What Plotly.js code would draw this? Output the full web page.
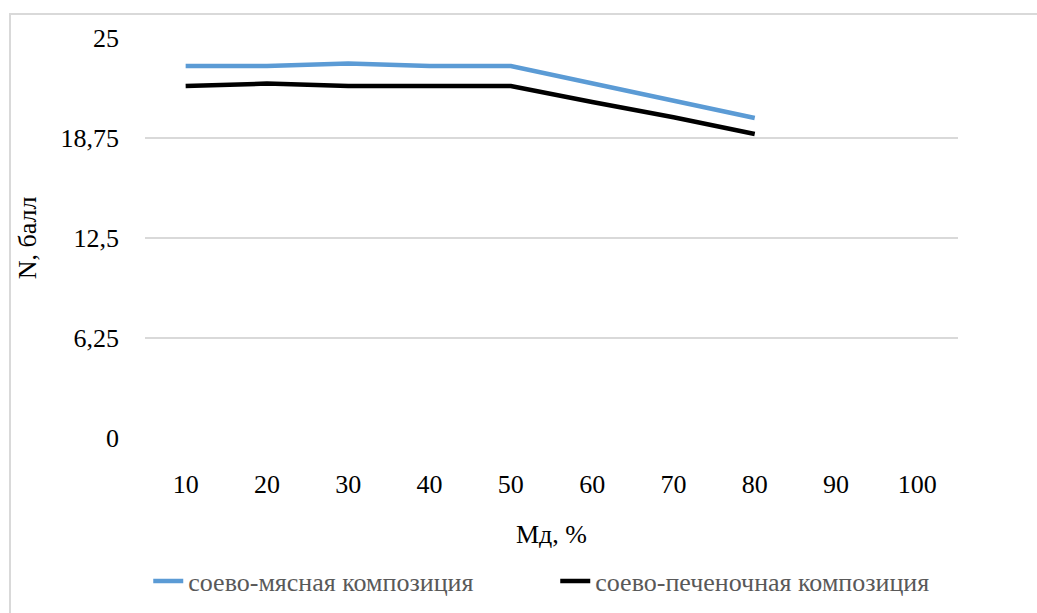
<!DOCTYPE html>
<html>
<head>
<meta charset="utf-8">
<script src="https://cdn.plot.ly/plotly-3.0.1.min.js"></script>
<style>
html,body{margin:0;padding:0;overflow:hidden;background:#fff;}
#frame{position:absolute;left:9px;top:13px;width:1100px;height:700px;border:2px solid #d9d9d9;box-sizing:border-box;}
#chart{position:absolute;left:0;top:0;width:1037px;height:613px;}
</style>
</head>
<body>
<div id="frame"></div>
<div id="chart"></div>
<script>
const categories = ['10','20','30','40','50','60','70','80','90','100'];
const meatValues = [23.25, 23.25, 23.4, 23.25, 23.25, 22.15, 21.1, 20.0, null, null];
const liverValues = [22.0, 22.15, 22.0, 22.0, 22.0, 21.0, 20.05, 19.0, null, null];
const yTicks = [0, 6.25, 12.5, 18.75, 25];
const yTickLabels = ['0', '6,25', '12,5', '18,75', '25'];
const seriesNames = ['соево-мясная композиция', 'соево-печеночная композиция'];

const font = 'Liberation Serif';

const traces = [
  {x: categories, y: meatValues, name: seriesNames[0], type: 'scatter', mode: 'lines',
   line: {color: '#5B9BD5', width: 4.5}, hoverinfo: 'x+y'},
  {x: categories, y: liverValues, name: seriesNames[1], type: 'scatter', mode: 'lines',
   line: {color: '#000000', width: 4.5}, hoverinfo: 'x+y'}
];

const layout = {
  width: 1037, height: 613,
  margin: {l: 145, r: 79, t: 38, b: 175},
  paper_bgcolor: 'rgba(0,0,0,0)',
  plot_bgcolor: 'rgba(0,0,0,0)',
  font: {family: font, size: 26, color: '#000'},
  showlegend: true,
  legend: {
    orientation: 'h', x: 0.004, xanchor: 'left',
    yref: 'container', y: 0.052, yanchor: 'middle',
    font: {family: font, size: 26, color: '#595959'},
    entrywidth: 362, entrywidthmode: 'pixels', bgcolor: 'rgba(0,0,0,0)'
  },
  xaxis: {
    type: 'category', range: [-0.5, 9.5], showgrid: false, zeroline: false,
    showline: false, ticks: '', ticklabelstandoff: 28,
    tickfont: {family: font, size: 26, color: '#000'},
    title: {text: 'Мд, %', font: {family: font, size: 26, color: '#000'}, standoff: 26},
    fixedrange: true
  },
  yaxis: {
    range: [0, 25], tickvals: yTicks, ticktext: yTickLabels,
    showgrid: true, gridcolor: '#d9d9d9', gridwidth: 1.5,
    zeroline: false, showline: false, ticks: '', ticklabelstandoff: 25,
    tickfont: {family: font, size: 26, color: '#000'},
    title: {text: 'N, балл', font: {family: font, size: 26, color: '#000'}, standoff: 16},
    fixedrange: true
  }
};

Plotly.newPlot('chart', traces, layout, {displayModeBar: false, staticPlot: true});
</script>
</body>
</html>
